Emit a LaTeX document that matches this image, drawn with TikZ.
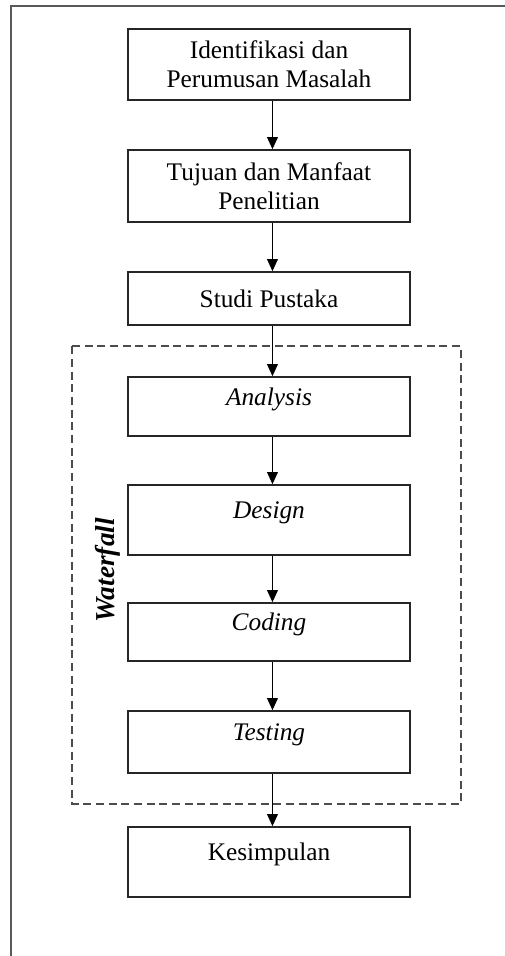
\documentclass[tikz,border=0pt]{standalone}
\usepackage{fontspec}
\setmainfont{Liberation Serif}
\usetikzlibrary{arrows.meta,positioning,calc}

\begin{document}
\begin{tikzpicture}[->,>={Triangle[length=9pt,width=8pt]},line width=1.2pt,
		box/.style={draw=black!85,minimum width=211.5pt,align=center,font=\fontsize{19}{22}\selectfont},
		uptext/.style={text depth=15pt,font=\fontsize{19}{22}\selectfont\itshape}]
		\useasboundingbox (0,0) rectangle (378.75pt,-717pt);
		\draw[-,black!65,line width=1.8pt] (8.25pt,-717pt) -- (8.25pt,-4.5pt) -- (378.75pt,-4.5pt);
		\node[box,minimum height=53.25pt]	(ident)	at (201.75pt,-48.4pt) {Identifikasi dan\\Perumusan Masalah};
		\node[box,minimum height=54pt] (tujuan) [below of=ident,node distance=91.1pt] {Tujuan dan Manfaat\\Penelitian};
		\node[box,minimum height=39.75pt] (studi) [below of=tujuan,node distance=84.4pt] {Studi Pustaka};
		\node[box,uptext,minimum height=44.25pt] (analysis) [below of=studi,node distance=81pt] {Analysis};
		\node[box,uptext,minimum height=52.5pt] (design) [below of=analysis,node distance=85.1pt] {Design};
		\node[box,uptext,minimum height=43.5pt] (coding) [below of=design,node distance=84pt] {Coding};
		\node[box,uptext,minimum height=46.5pt] (testing) [below of=coding,node distance=82.5pt] {Testing};
		\node[box,text depth=15pt,minimum height=52.5pt] (kesimpulan) [below of=testing,node distance=90pt] {Kesimpulan};
		\draw[-,black!70,line width=1.6pt,dash pattern=on 6pt off 3.5pt] ($(analysis.north west)+(-41.25pt,22.5pt)$) rectangle ($(testing.south east)+(37.5pt,-22.5pt)$);
		\node[rotate=90,font=\fontsize{20.5}{24}\selectfont\bfseries\itshape] (wflabel) at ($(coding.north west)+(-14.25pt,24pt)$) {Waterfall};
		\path[line width=1pt]
			([xshift=2.6pt]ident.south) edge ([xshift=2.6pt]tujuan.north)
			([xshift=2.6pt]tujuan.south) edge ([xshift=2.6pt]studi.north)
			([xshift=2.6pt]studi.south) edge ([xshift=2.6pt]analysis.north)
			([xshift=2.6pt]analysis.south) edge ([xshift=2.6pt]design.north)
			([xshift=2.6pt]design.south) edge ([xshift=2.6pt]coding.north)
			([xshift=2.6pt]coding.south) edge ([xshift=2.6pt]testing.north)
			([xshift=2.6pt]testing.south) edge ([xshift=2.6pt]kesimpulan.north);
	\end{tikzpicture}
\end{document}
